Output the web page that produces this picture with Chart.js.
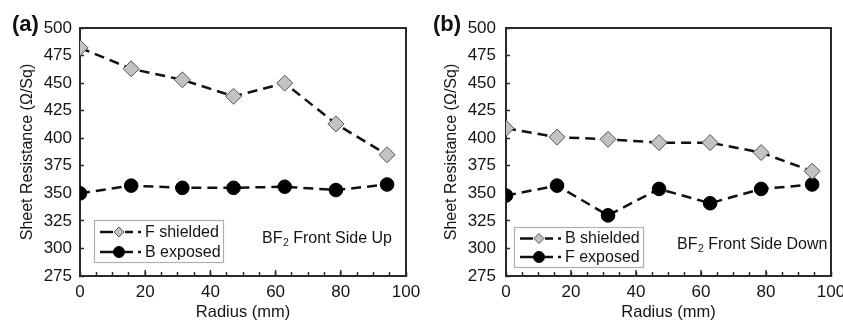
<!DOCTYPE html>
<html>
<head>
<meta charset="utf-8">
<script src="https://cdn.jsdelivr.net/npm/chart.js@4"></script>
<style>
  html, body { margin:0; padding:0; background:#fff; }
  #wrap { position:relative; width:843px; height:322px; overflow:hidden; background:#fff; }
  canvas { position:absolute; top:0; }
</style>
</head>
<body>
<div id="wrap">
  <canvas id="ca" width="420" height="322" style="left:0px"></canvas>
  <canvas id="cb" width="423" height="322" style="left:420px"></canvas>
</div>
<script>
// ---- data ----
const radius = [0, 15.7, 31.4, 47.1, 62.8, 78.5, 94.2];
const aShielded = [482, 463, 453, 438, 450, 413, 385];
const aExposed  = [350, 357, 355, 355, 356, 353, 358];
const bShielded = [409, 401, 399, 396, 396, 387, 370];
const bExposed  = [348, 357, 330, 354, 341, 354, 358];
const xTickLabels = [0, 20, 40, 60, 80, 100];
const yTickLabels = [275, 300, 325, 350, 375, 400, 425, 450, 475, 500];
const aNames = ['F shielded', 'B exposed'];
const bNames = ['B shielded', 'F exposed'];
const aPanel = '(a)', bPanel = '(b)';
const aNote = ['BF', '2', ' Front Side Up'];
const bNote = ['BF', '2', ' Front Side Down'];
const xTitle = 'Radius (mm)';
const yTitle = 'Sheet Resistance (\u03A9/Sq)';

const FAM = '"Liberation Sans", Arial, Helvetica, sans-serif';
const TXT = '#151515';
const AX = '#2a2a2a';

function pts(xs, ys) { return xs.map((x, i) => ({ x: x, y: ys[i] })); }

function makeChart(id, names, shielded, exposed, panel, note, geo) {
  const dsShield = {
    label: names[0], data: pts(radius, shielded),
    borderColor: '#111', borderWidth: 2.5, borderDash: [10, 6],
    pointStyle: 'rectRot', pointRadius: 8, pointBackgroundColor: '#c2c2c2',
    pointBorderColor: '#555', pointBorderWidth: 1, tension: 0, fill: false
  };
  const dsExp = {
    label: names[1], data: pts(radius, exposed),
    borderColor: '#111', borderWidth: 2.5, borderDash: [10, 6],
    pointStyle: 'circle', pointRadius: 6.8, pointBackgroundColor: '#000',
    pointBorderColor: '#000', pointBorderWidth: 1, tension: 0, fill: false
  };

  const deco = {
    id: 'deco',
    beforeDatasetsDraw(chart) {
      const ctx = chart.ctx, a = chart.chartArea;
      ctx.save();
      ctx.strokeStyle = AX; ctx.lineWidth = 2;
      ctx.strokeRect(a.left, a.top, a.right - a.left, a.bottom - a.top);
      // longer major ticks on the x axis
      const xs = chart.scales.x;
      ctx.lineWidth = 1.5;
      xTickLabels.forEach(v => {
        const px = xs.getPixelForValue(v);
        ctx.beginPath(); ctx.moveTo(px, a.bottom); ctx.lineTo(px, a.bottom - 6); ctx.stroke();
      });
      ctx.restore();
    },
    afterDraw(chart) {
      const ctx = chart.ctx;
      ctx.save();
      // panel letter
      ctx.fillStyle = '#111';
      ctx.font = 'bold 22px ' + FAM;
      ctx.textBaseline = 'middle'; ctx.textAlign = 'left';
      ctx.fillText(panel, geo.panelX, 25);
      // legend box
      const L = geo.leg;
      ctx.setLineDash([]);
      ctx.strokeStyle = '#b0b0b0'; ctx.lineWidth = 1.2;
      ctx.strokeRect(L.x + 0.5, L.y + 0.5, L.w, L.h);
      const dsets = chart.data.datasets;
      dsets.forEach((ds, i) => {
        const cy = L.y + L.r1 + i * L.gap;
        ctx.strokeStyle = '#111'; ctx.lineWidth = 2.5;
        ctx.beginPath(); ctx.moveTo(L.x + 6, cy); ctx.lineTo(L.x + 19, cy); ctx.stroke();
        ctx.beginPath(); ctx.moveTo(L.x + 31, cy); ctx.lineTo(L.x + 39, cy); ctx.stroke();
        ctx.beginPath(); ctx.moveTo(L.x + 44, cy); ctx.lineTo(L.x + 47, cy); ctx.stroke();
        ctx.fillStyle = ds.pointBackgroundColor; ctx.strokeStyle = ds.pointBorderColor;
        ctx.lineWidth = 1;
        ctx.beginPath();
        if (ds.pointStyle === 'circle') { ctx.arc(L.x + 25, cy, 5.5, 0, Math.PI * 2); }
        else { ctx.moveTo(L.x + 25, cy - 5); ctx.lineTo(L.x + 30, cy); ctx.lineTo(L.x + 25, cy + 5); ctx.lineTo(L.x + 20, cy); ctx.closePath(); }
        ctx.fill(); ctx.stroke();
        ctx.fillStyle = TXT; ctx.font = '16px ' + FAM;
        ctx.textBaseline = 'middle'; ctx.textAlign = 'left';
        ctx.fillText(ds.label, L.x + 51, cy + 0.5);
      });
      // annotation with subscript
      const N = geo.note;
      ctx.fillStyle = TXT; ctx.textBaseline = 'middle'; ctx.textAlign = 'left';
      ctx.font = '16px ' + FAM;
      let x = N.x;
      ctx.fillText(note[0], x, N.y); x += ctx.measureText(note[0]).width;
      ctx.font = '10.5px ' + FAM;
      ctx.fillText(note[1], x + 0.5, N.y + 4); x += ctx.measureText(note[1]).width + 0.5;
      ctx.font = '16px ' + FAM;
      ctx.fillText(note[2], x, N.y);
      ctx.restore();
    }
  };

  return new Chart(document.getElementById(id), {
    type: 'line',
    data: { datasets: [dsShield, dsExp] },
    options: {
      responsive: false, animation: false, devicePixelRatio: 1,
      layout: { padding: { left: 0, top: 28, right: geo.padRight, bottom: 0 } },
      plugins: { legend: { display: false }, tooltip: { enabled: false }, title: { display: false } },
      scales: {
        x: {
          type: 'linear', min: 0, max: 100,
          ticks: {
            stepSize: 5, autoSkip: false, maxRotation: 0, minRotation: 0, padding: 10,
            color: TXT, font: { size: 17, family: FAM },
            callback: v => (xTickLabels.includes(v) ? String(v) : '')
          },
          grid: { drawOnChartArea: false, drawTicks: true, tickLength: -4, color: AX, tickWidth: 1.5 },
          border: { display: true, color: AX, width: 2 },
          title: { display: true, text: xTitle, color: TXT, font: { size: 16.5, family: FAM }, padding: { top: 0, bottom: 0 } },
          afterFit: s => { s.height = 46; s.paddingLeft = 0; s.paddingRight = 0; }
        },
        y: {
          type: 'linear', min: yTickLabels[0], max: yTickLabels[yTickLabels.length - 1],
          ticks: { stepSize: 25, padding: geo.yTickPad, color: TXT, font: { size: 17, family: FAM } },
          grid: { drawOnChartArea: false, drawTicks: true, tickLength: -4, color: AX, tickWidth: 1.5 },
          border: { display: true, color: AX, width: 2 },
          title: { display: true, text: yTitle, color: TXT, font: { size: 16, family: FAM }, padding: { top: geo.yTitlePad, bottom: 0 } },
          afterFit: s => { s.width = geo.yWidth; s.paddingTop = 0; s.paddingBottom = 0; }
        }
      }
    },
    plugins: [deco]
  });
}

makeChart('ca', aNames, aShielded, aExposed, aPanel, aNote, {
  panelX: 12, padRight: 14, yWidth: 80, yTickPad: 12, yTitlePad: 18.4,
  leg: { x: 94, y: 220, w: 129, h: 42, r1: 12, gap: 20 },
  note: { x: 262, y: 239 }
});
makeChart('cb', bNames, bShielded, bExposed, bPanel, bNote, {
  panelX: 13, padRight: 12, yWidth: 86, yTickPad: 14, yTitlePad: 22.4,
  leg: { x: 94, y: 227, w: 129, h: 40, r1: 11.5, gap: 18.5 },
  note: { x: 257, y: 245 }
});
</script>
</body>
</html>
